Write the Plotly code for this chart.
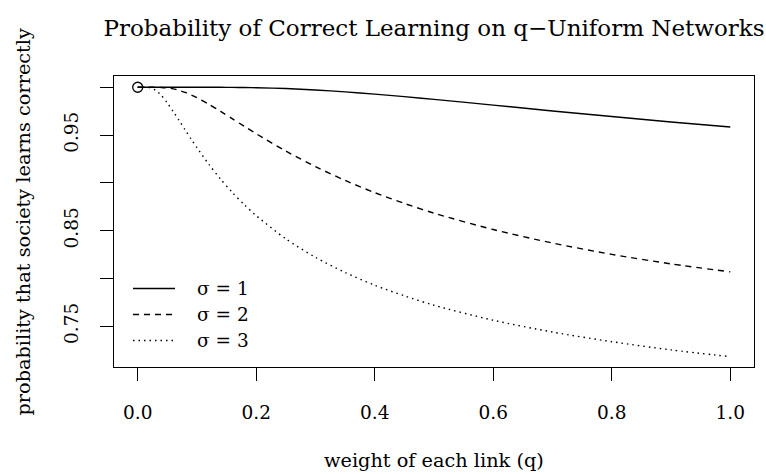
import plotly.graph_objects as go

# ---- data ----
q = [0.0, 0.01, 0.02, 0.03, 0.04, 0.05, 0.06, 0.07, 0.08, 0.09, 0.10,
     0.12, 0.14, 0.16, 0.18, 0.20, 0.25, 0.30, 0.35, 0.40, 0.45, 0.50,
     0.60, 0.70, 0.80, 0.90, 1.00]

p_sigma1 = [1.0, 1.0, 1.0, 1.0, 1.0, 1.0, 1.0, 1.0, 1.0, 1.0, 1.0,
            0.99999, 0.99995, 0.99988, 0.99975, 0.99955, 0.99865, 0.99719,
            0.99522, 0.99284, 0.99018, 0.98733, 0.98133, 0.97523, 0.96933,
            0.96368, 0.95836]

p_sigma2 = [1.0, 1.0, 1.0, 0.99998, 0.99982, 0.99932, 0.99830, 0.99673,
            0.99461, 0.99202, 0.98904, 0.98222, 0.97471, 0.96690, 0.95907,
            0.95135, 0.93319, 0.91698, 0.90251, 0.88970, 0.87840, 0.86822,
            0.85107, 0.83695, 0.82510, 0.81515, 0.80674]

p_sigma3 = [1.0, 1.0, 0.99960, 0.99695, 0.99134, 0.98358, 0.97459, 0.96508,
            0.95543, 0.94586, 0.93674, 0.91939, 0.90372, 0.88971, 0.87698,
            0.86563, 0.84134, 0.82199, 0.80620, 0.79277, 0.78172, 0.77187,
            0.75616, 0.74377, 0.73369, 0.72508, 0.71803]

series_labels = ["σ = 1", "σ = 2", "σ = 3"]
start_q = [0.0]
start_p = [1.0]

x_ticks = [0.0, 0.2, 0.4, 0.6, 0.8, 1.0]
x_tick_labels = ["0.0", "0.2", "0.4", "0.6", "0.8", "1.0"]
y_ticks = [0.75, 0.80, 0.85, 0.90, 0.95, 1.00]
y_tick_labels = ["0.75", "", "0.85", "", "0.95", ""]

title_text = "Probability of Correct Learning on q\u2212Uniform Networks"
x_label = "weight of each link (q)"
y_label = "probability that society learns correctly"

# ---- figure ----
FONT = "DejaVu Serif"
W, H = 766, 474
ML, MR, MT, MB = 114, 12, 76, 107
PW, PH = W - ML - MR, H - MT - MB

dashes = ["solid", "6px,5px", "1.5px,4px"]

fig = go.Figure()
for vals, name, dash in zip([p_sigma1, p_sigma2, p_sigma3], series_labels, dashes):
    fig.add_trace(go.Scatter(
        x=q, y=vals, mode="lines", name=name, showlegend=False,
        line=dict(color="black", width=1.4, dash=dash, shape="spline", smoothing=0.8),
    ))

fig.add_trace(go.Scatter(
    x=start_q, y=start_p, mode="markers", showlegend=False,
    marker=dict(symbol="circle-open", size=10, color="black", line=dict(width=1.3, color="black")),
))

# legend drawn R-style (no box): line sample + label
shapes = []
annotations = []
leg_line_x0, leg_line_x1, leg_text_x = 133, 175, 195
leg_rows_px = [288.5, 314.5, 340.5]
for name, dash, ypx in zip(series_labels, dashes, leg_rows_px):
    yp = (H - MB - ypx) / PH
    shapes.append(dict(type="line", xref="paper", yref="paper",
                       x0=(leg_line_x0 - ML) / PW, x1=(leg_line_x1 - ML) / PW, y0=yp, y1=yp,
                       line=dict(color="black", width=1.4, dash=dash)))
    annotations.append(dict(text=name, xref="paper", yref="paper",
                            x=(leg_text_x - ML) / PW, y=yp, xanchor="left", yanchor="middle",
                            showarrow=False, font=dict(family=FONT, size=18.5, color="black")))

annotations += [
    dict(text=x_label, xref="paper", yref="paper", x=0.5, y=0, xanchor="center",
         yanchor="middle", yshift=-93, showarrow=False,
         font=dict(family=FONT, size=19.3, color="black")),
    dict(text=y_label, xref="paper", yref="paper", x=0, y=0.5, xanchor="center",
         yanchor="middle", xshift=-91, textangle=-90, showarrow=False,
         font=dict(family=FONT, size=19.3, color="black")),
]

fig.update_layout(
    width=W, height=H,
    margin=dict(l=ML, r=MR, t=MT, b=MB, pad=0),
    paper_bgcolor="white", plot_bgcolor="white",
    font=dict(family=FONT, size=18.5, color="black"),
    title=dict(text=title_text, x=(ML + PW / 2) / W, xanchor="center",
               y=1 - 28 / H, yanchor="middle", font=dict(family=FONT, size=23, color="black")),
    showlegend=False,
    xaxis=dict(range=[-0.04, 1.04], tickvals=x_ticks, ticktext=x_tick_labels,
               ticks="outside", ticklen=13, tickwidth=1.3, tickcolor="black",
               showline=True, linecolor="black", linewidth=1.3, mirror=True,
               showgrid=False, zeroline=False, ticklabelstandoff=16,
               tickfont=dict(family=FONT, size=18.5, color="black")),
    yaxis=dict(range=[0.7072, 1.0118], tickvals=y_ticks, ticktext=y_tick_labels,
               ticks="outside", ticklen=13, tickwidth=1.3, tickcolor="black",
               showline=True, linecolor="black", linewidth=1.3, mirror=True,
               showgrid=False, zeroline=False, tickangle=-90, ticklabelstandoff=14,
               tickfont=dict(family=FONT, size=18.5, color="black")),
    shapes=shapes,
    annotations=annotations,
)

# remove the browser's default 8px body margin so the figure fills the window exactly
fig.write_html("out.html", config={"displayModeBar": False},
               post_script="document.body.style.margin='0px';document.body.style.overflow='hidden';")
